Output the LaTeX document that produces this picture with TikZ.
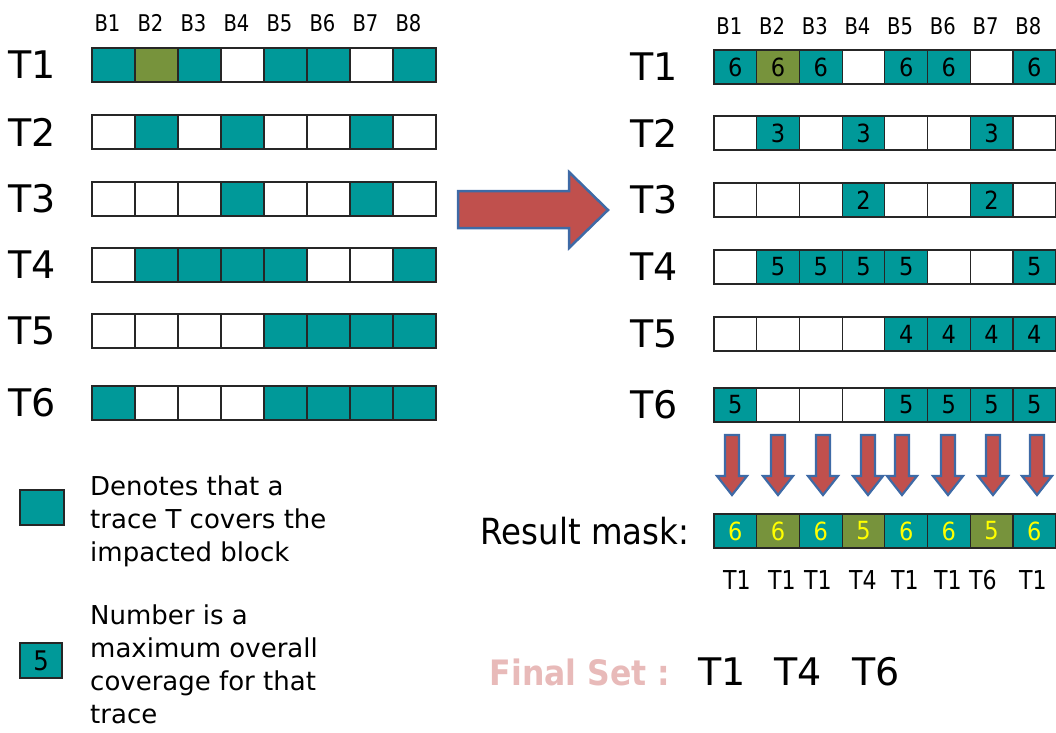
\documentclass[tikz,border=0pt]{standalone}
\usepackage{fontspec}
\setmainfont{DejaVu Sans}
\newfontfamily\condfont[FakeStretch=0.9]{DejaVu Sans}
\newfontfamily\narrowfont[FakeStretch=0.85]{DejaVu Sans}
\definecolor{TL}{RGB}{0,153,153}
\definecolor{OL}{RGB}{119,147,60}
\definecolor{W}{RGB}{255,255,255}
\definecolor{ARed}{RGB}{192,80,77}
\definecolor{ABlue}{RGB}{62,106,166}
\definecolor{FinPink}{RGB}{232,186,185}
\definecolor{MYel}{RGB}{255,255,0}
\newcommand\myfs[1]{\fontsize{#1}{#1}\selectfont}
\tikzset{
  cell/.style={draw=black!85, line width=1.2pt, minimum height=34pt, inner sep=0pt, font=\condfont\myfs{25}},
  tlab/.style={inner sep=0pt, font=\myfs{38}},
  blab/.style={inner sep=0pt, font=\narrowfont\myfs{23}},
  mlab/.style={inner sep=0pt, font=\narrowfont\myfs{26}},
  bigarrow/.style={fill=ARed, draw=ABlue, line width=2.5pt, line join=miter},
  downarrow/.style={fill=ARed, draw=ABlue, line width=2.2pt, line join=miter},
}
% #1 prefix, #2 x0, #3 cell width, #4 y, #5 list c/colour/text
\newcommand\myrow[5]{%
  \foreach \c/\col/\n in {#5} {%
    \node[cell, fill=\col, minimum width=#3pt] (#1-\c) at ({#2+#3*(\c-0.5)},#4) {\n};
  }%
}
\begin{document}
\begin{tikzpicture}[x=1pt,y=-1pt]
\useasboundingbox (0,0) rectangle (1056,732);

% ---------- left panel ----------
\foreach \c in {1,...,8} {
  \node[blab] (LB\c) at ({92+43*(\c-0.5)-6},23) {B\c};
}
\node[tlab] (LT1) at (32,65) {T1};
\node[tlab] (LT2) at (32,132) {T2};
\node[tlab] (LT3) at (32,199) {T3};
\node[tlab] (LT4) at (32,265) {T4};
\node[tlab] (LT5) at (32,331) {T5};
\node[tlab] (LT6) at (32,403) {T6};

\myrow{L1}{92}{43}{65}{1/TL/{},2/OL/{},3/TL/{},4/W/{},5/TL/{},6/TL/{},7/W/{},8/TL/{}}
\myrow{L2}{92}{43}{132}{1/W/{},2/TL/{},3/W/{},4/TL/{},5/W/{},6/W/{},7/TL/{},8/W/{}}
\myrow{L3}{92}{43}{199}{1/W/{},2/W/{},3/W/{},4/TL/{},5/W/{},6/W/{},7/TL/{},8/W/{}}
\myrow{L4}{92}{43}{265}{1/W/{},2/TL/{},3/TL/{},4/TL/{},5/TL/{},6/W/{},7/W/{},8/TL/{}}
\myrow{L5}{92}{43}{331}{1/W/{},2/W/{},3/W/{},4/W/{},5/TL/{},6/TL/{},7/TL/{},8/TL/{}}
\myrow{L6}{92}{43}{403}{1/TL/{},2/W/{},3/W/{},4/W/{},5/TL/{},6/TL/{},7/TL/{},8/TL/{}}

% ---------- big arrow ----------
\draw[bigarrow] (458,191) -- (569,191) -- (569,172) -- (608,210) -- (569,248) -- (569,228) -- (458,228) -- cycle;

% ---------- right panel ----------
\foreach \c in {1,...,8} {
  \node[blab] (RB\c) at ({714+42.7*(\c-0.5)-6},26) {B\c};
}
\node[tlab] (RT1) at (654,67) {T1};
\node[tlab] (RT2) at (654,133) {T2};
\node[tlab] (RT3) at (654,200) {T3};
\node[tlab] (RT4) at (654,267) {T4};
\node[tlab] (RT5) at (654,334) {T5};
\node[tlab] (RT6) at (654,405) {T6};

\myrow{R1}{714}{42.7}{67}{1/TL/6,2/OL/6,3/TL/6,4/W/{},5/TL/6,6/TL/6,7/W/{},8/TL/6}
\myrow{R2}{714}{42.7}{133}{1/W/{},2/TL/3,3/W/{},4/TL/3,5/W/{},6/W/{},7/TL/3,8/W/{}}
\myrow{R3}{714}{42.7}{200}{1/W/{},2/W/{},3/W/{},4/TL/2,5/W/{},6/W/{},7/TL/2,8/W/{}}
\myrow{R4}{714}{42.7}{267}{1/W/{},2/TL/5,3/TL/5,4/TL/5,5/TL/5,6/W/{},7/W/{},8/TL/5}
\myrow{R5}{714}{42.7}{334}{1/W/{},2/W/{},3/W/{},4/W/{},5/TL/4,6/TL/4,7/TL/4,8/TL/4}
\myrow{R6}{714}{42.7}{405}{1/TL/5,2/W/{},3/W/{},4/W/{},5/TL/5,6/TL/5,7/TL/5,8/TL/5}

% down arrows
\foreach \x in {732,778,823,868,902,948,993,1037} {
  \draw[downarrow] (\x-7,435) -- (\x+7,435) -- (\x+7,476) -- (\x+15,476) -- (\x,495) -- (\x-15,476) -- (\x-7,476) -- cycle;
}

% result mask
\node[inner sep=0pt, font=\condfont\myfs{36}] (RM) at (585,531) {Result mask:};
\begin{scope}[every node/.append style={text=MYel, font=\condfont\myfs{27}}]
\myrow{M}{714}{42.7}{531}{1/TL/6,2/OL/6,3/TL/6,4/OL/5,5/TL/6,6/TL/6,7/OL/5,8/TL/6}
\end{scope}
\foreach \x/\t [count=\i] in {737/T1,782/T1,818/T1,863/T4,905/T1,948/T1,983/T6,1033/T1} {
  \node[mlab] (ML\i) at (\x,580) {\t};
}

% final set
\node[inner sep=0pt, text=FinPink, font=\condfont\bfseries\myfs{35}] (FS) at (580,672) {Final Set :};
\node[tlab] (F1) at (722,672) {T1};
\node[tlab] (F4) at (798,672) {T4};
\node[tlab] (F6) at (876,672) {T6};

% legend
\node[draw=black!85, line width=1.2pt, fill=TL, minimum width=44pt, minimum height=35pt, inner sep=0pt] (LG1) at (42,507.5) {};
\node[anchor=north west, inner sep=0pt, align=left, font=\fontsize{26}{33}\selectfont] (LG1t) at (90,476) {Denotes that a\\trace T covers the\\impacted block};
\node[draw=black!85, line width=1.2pt, fill=TL, minimum width=42pt, minimum height=35pt, inner sep=0pt, font=\condfont\myfs{27}] (LG2) at (41,660.5) {5};
\node[anchor=north west, inner sep=0pt, align=left, font=\fontsize{26}{33}\selectfont] (LG2t) at (90,605) {Number is a\\maximum overall\\coverage for that\\trace};
\end{tikzpicture}
\end{document}
